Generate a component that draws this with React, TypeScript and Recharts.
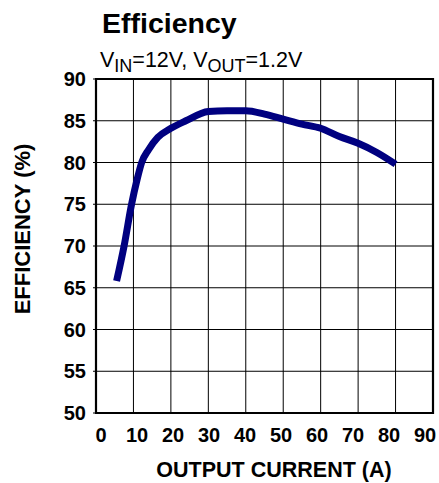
import React from "react"
import { LineChart, Line, XAxis, YAxis, CartesianGrid, ReferenceArea } from "recharts"

const FONT = "'Liberation Sans', Arial, Helvetica, sans-serif"

// output current (A) and efficiency (%)
const currentA = [5.5, 7.5, 9.5, 11, 12.2, 14, 16.5, 20, 24, 30, 35, 40, 45, 50, 55, 60, 65, 70, 75, 80]
const efficiencyPct = [65.8, 70, 75, 78, 80, 81.5, 83, 84.1, 85, 86.1, 86.2, 86.2, 85.8, 85.2, 84.6, 84.1, 83.1, 82.3, 81.2, 79.8]

const xTicks = [0, 10, 20, 30, 40, 50, 60, 70, 80, 90]
const yTicks = [50, 55, 60, 65, 70, 75, 80, 85, 90]

const data = currentA.map((c, i) => ({ current: c, eff: efficiencyPct[i] }))

const W = 439
const H = 483

const XTick = ({ x, payload }: any) => {
  // labels sit a little closer together than the grid lines
  const lx = 101 + (x - 96) * (324 / 337)
  return (
    <text x={lx} y={442} textAnchor="middle" fontFamily={FONT} fontWeight="bold" fontSize={20} fill="#000">
      {payload.value}
    </text>
  )
}

const YTick = ({ y, payload }: any) => (
  <text x={86} y={y} dy="0.36em" textAnchor="end" fontFamily={FONT} fontWeight="bold" fontSize={20} fill="#000">
    {payload.value}
  </text>
)

export default function App() {
  return (
    <div style={{ position: "fixed", left: 0, top: 0, width: W, height: H, background: "#fff" }}>
      <LineChart width={W} height={H} data={data} margin={{ top: 79, right: 6, bottom: 0, left: 0 }}>
        <CartesianGrid stroke="#000" strokeWidth={1} />
        <XAxis
          dataKey="current"
          type="number"
          domain={[0, 90]}
          ticks={xTicks}
          height={70}
          axisLine={false}
          tickLine={false}
          tick={<XTick />}
          interval={0}
        />
        <YAxis
          type="number"
          domain={[50, 90]}
          ticks={yTicks}
          width={96}
          axisLine={false}
          tickLine={{ stroke: "#000" }}
          tickSize={3}
          tick={<YTick />}
          interval={0}
        />
        <ReferenceArea x1={0} x2={90} y1={50} y2={90} fill="none" stroke="#000" strokeWidth={2.2} />
        <Line
          dataKey="eff"
          type="monotone"
          stroke="#000080"
          strokeWidth={7}
          strokeLinecap="butt"
          dot={false}
          isAnimationActive={false}
        />
      </LineChart>
      <svg width={W} height={H} style={{ position: "absolute", left: 0, top: 0, pointerEvents: "none" }}>
        <text x={102} y={33} fontFamily={FONT} fontWeight="bold" fontSize={28.5} fill="#000">
          Efficiency
        </text>
        <text x={100} y={67} fontFamily={FONT} fontSize={21.5} fill="#000">
          V<tspan fontSize={18} dy={5}>IN</tspan>
          <tspan dy={-5}>=12V, V</tspan>
          <tspan fontSize={18} dy={5}>OUT</tspan>
          <tspan dy={-5}>=1.2V</tspan>
        </text>
        <text
          x={0}
          y={0}
          transform="translate(29.5,229) rotate(-90)"
          textAnchor="middle"
          fontFamily={FONT}
          fontWeight="bold"
          fontSize={22}
          fill="#000"
        >
          EFFICIENCY (%)
        </text>
        <text x={274} y={477} textAnchor="middle" fontFamily={FONT} fontWeight="bold" fontSize={21.5} fill="#000">
          OUTPUT CURRENT (A)
        </text>
      </svg>
    </div>
  )
}
